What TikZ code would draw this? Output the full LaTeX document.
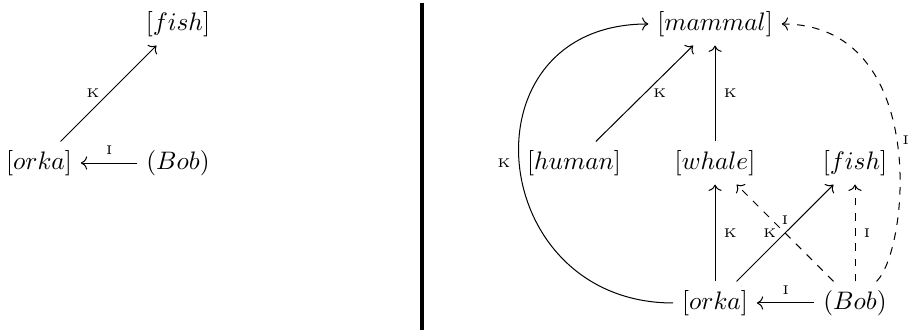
\documentclass[tikz,border=0pt]{standalone}
\usepackage{amsmath,amssymb}
\usetikzlibrary{arrows.meta, positioning}
\tikzset{
  cls/.style  = {inner sep=3.33pt},
  rel/.style  = {->},
  inst/.style = {->, dashed},
  lbl/.style  = {font=\tiny},
}

\begin{document}
\begin{tikzpicture}

% ---- Frame ------------------------------------------------------------------
\useasboundingbox (0,0) rectangle (12.625,4.597);

\def\top{4.264}  % upper row
\def\mid{2.333}  % middle row
\def\bot{0.389}  % lower row

% ---- Left: single classification -------------------------------------------
\node[cls] (fishL) at (2.472,\top) {$[fish]$};
\node[cls] (orkaL) at (0.542,\mid) {$[orka]$};
\node[cls] (bobL)  at (2.472,\mid) {$(Bob)$};

\draw[rel] (orkaL) -- node[lbl, left] {K} (fishL);
\draw[rel] (bobL) -- node[lbl, above] {I} (orkaL);

% Separator
\draw[very thick] (5.861,0.014) -- (5.861,4.556);

% ---- Right: hierarchy ------------------------------------------------------
\node[cls] (mammal) at (9.931,\top)  {$[mammal]$};
\node[cls] (human)  at (7.972,\mid)  {$[human]$};
\node[cls] (whale)  at (9.931,\mid)  {$[whale]$};
\node[cls] (fish)   at (11.875,\mid) {$[fish]$};
\node[cls] (orka)   at (9.931,\bot)  {$[orka]$};
\node[cls] (bob)    at (11.875,\bot) {$(Bob)$};

% kinds
\draw[rel] (human) -- node[lbl, right] {K} (mammal);
\draw[rel] (whale) -- node[lbl, right] {K} (mammal);
\draw[rel] (orka) -- node[lbl, right] {K} (whale);
\draw[rel] (orka) -- node[lbl, left] {K} (fish);
\draw[rel] (orka) to[out=180, in=180, distance=2.62cm]
  node[lbl, midway, left] {K} (mammal);

% instances
\draw[rel] (bob) -- node[lbl, above] {I} (orka);
\draw[inst] (bob) -- node[lbl, above] {I} (whale);
\draw[inst] (bob) -- node[lbl, right] {I} (fish);
\draw[inst] (bob) to[out=45, in=0, out distance=0.65cm, in distance=2.05cm]
  node[lbl, midway, right, inner sep=2pt] {I} (mammal);

\end{tikzpicture}
\end{document}
